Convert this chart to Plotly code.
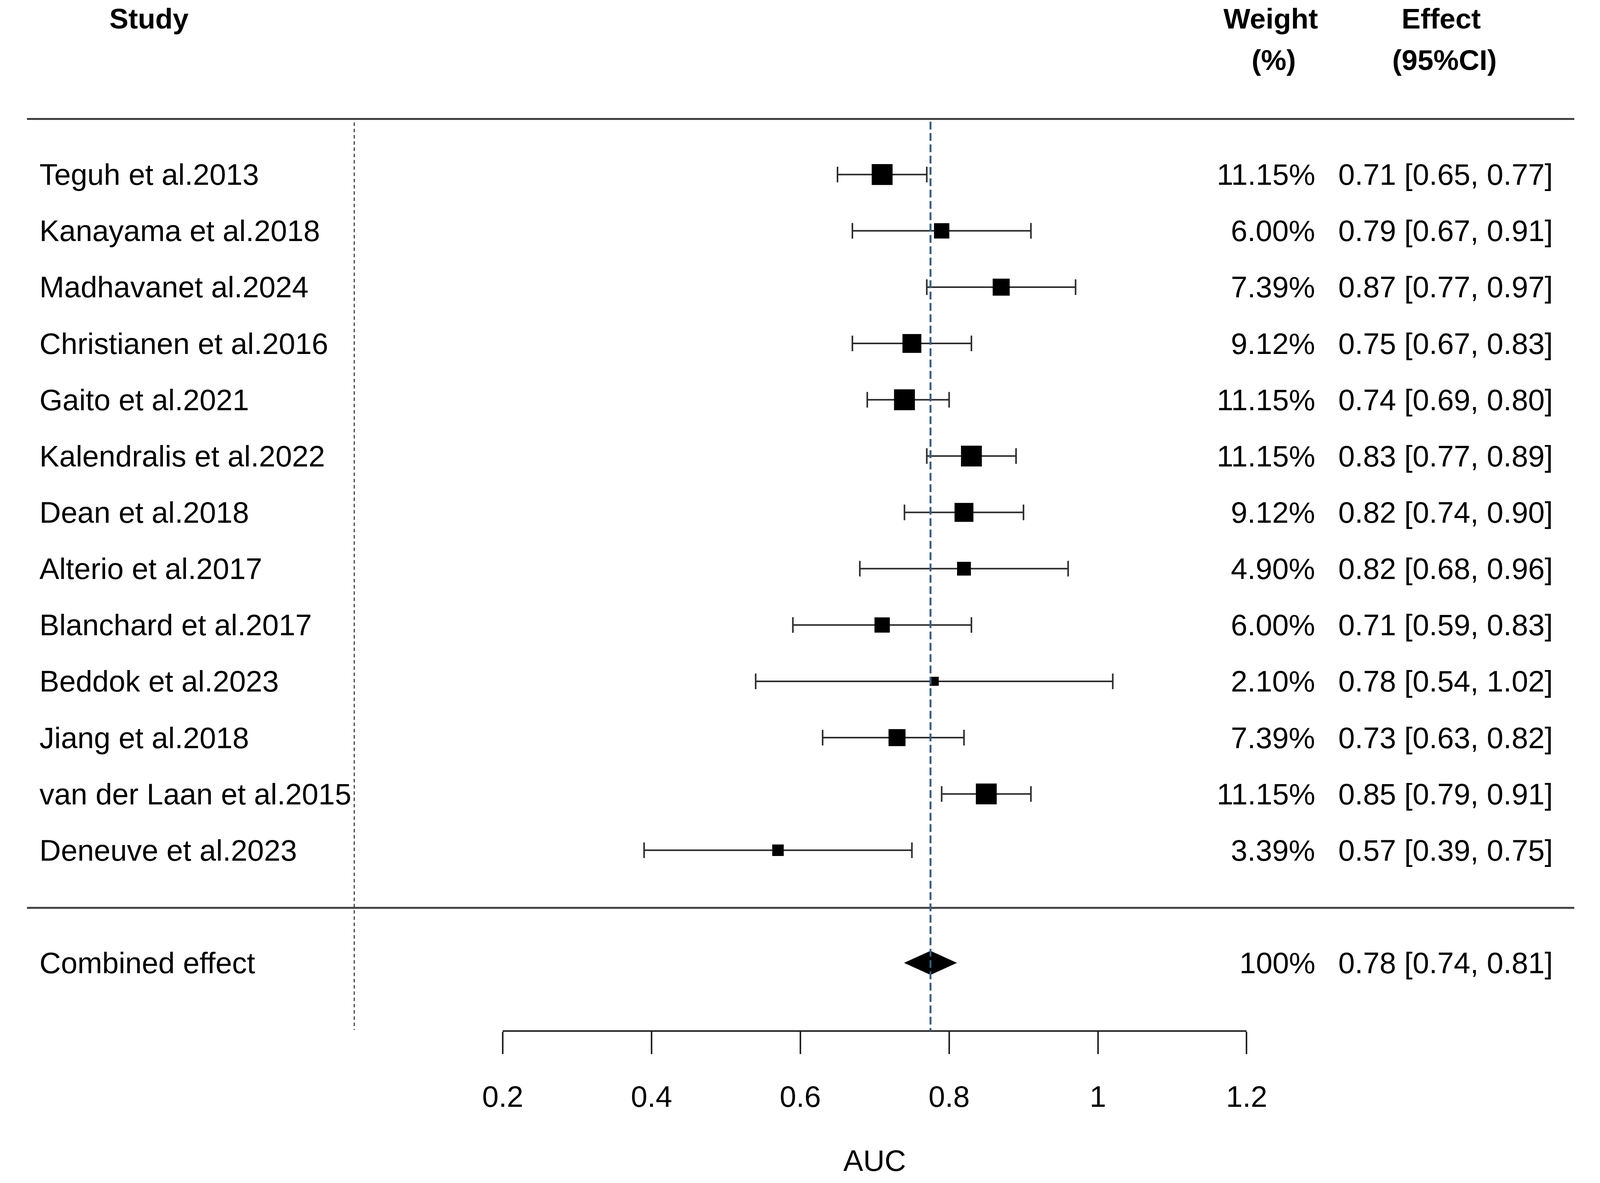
import plotly.graph_objects as go

# study-level results (AUC with 95% CI) and weights
studies = [
    "Teguh et al.2013", "Kanayama et al.2018", "Madhavanet al.2024",
    "Christianen et al.2016", "Gaito et al.2021", "Kalendralis et al.2022",
    "Dean et al.2018", "Alterio et al.2017", "Blanchard et al.2017",
    "Beddok et al.2023", "Jiang et al.2018", "van der Laan et al.2015",
    "Deneuve et al.2023",
]
auc = [0.71, 0.79, 0.87, 0.75, 0.74, 0.83, 0.82, 0.82, 0.71, 0.78, 0.73, 0.85, 0.57]
ci_low = [0.65, 0.67, 0.77, 0.67, 0.69, 0.77, 0.74, 0.68, 0.59, 0.54, 0.63, 0.79, 0.39]
ci_high = [0.77, 0.91, 0.97, 0.83, 0.80, 0.89, 0.90, 0.96, 0.83, 1.02, 0.82, 0.91, 0.75]
weights = [11.15, 6.00, 7.39, 9.12, 11.15, 11.15, 9.12, 4.90, 6.00, 2.10, 7.39, 11.15, 3.39]

pooled_label = "Combined effect"
pooled_auc = 0.775
pooled_low = 0.74
pooled_high = 0.81
pooled_weight = "100%"

tick_vals = [0.2, 0.4, 0.6, 0.8, 1.0, 1.2]
tick_text = ["0.2", "0.4", "0.6", "0.8", "1", "1.2"]

FONT = "Liberation Sans, Arial, sans-serif"
# the browser viewport tops out at 4096 css px wide, so fill that
W, H = 4080, 3012
# positions below are measured on the 4961 x 3028 reference
REF_W, REF_H = 4961, 3028
ROW_PX = 144.9          # reference pixel height of one row
FIRST_ROW_PX = 441      # reference pixel y of first study row
TXT = 76                # body text size
HDR = 73                # bold header size


def fx(px):
    return px / REF_W


def fy(px):
    return 1 - px / REF_H


def px_to_row(py):
    return 1 + (py - FIRST_ROW_PX) / ROW_PX


rows = list(range(1, len(studies) + 1))
pooled_row = len(studies) + 2

fig = go.Figure()

# study squares with CI whiskers
fig.add_trace(go.Scatter(
    x=auc, y=rows, mode="markers",
    marker=dict(symbol="square", color="black", opacity=1,
                size=[16 * w ** 0.5 for w in weights], line_width=0),
    error_x=dict(type="data", symmetric=False,
                 array=[h - a for h, a in zip(ci_high, auc)],
                 arrayminus=[a - l for a, l in zip(auc, ci_low)],
                 color="#2b2b2b", thickness=4, width=20),
    showlegend=False, hoverinfo="skip",
))

# pooled diamond
dh = 0.21
fig.add_trace(go.Scatter(
    x=[pooled_low, pooled_auc, pooled_high, pooled_auc, pooled_low],
    y=[pooled_row, pooled_row - dh, pooled_row, pooled_row + dh, pooled_row],
    mode="lines", fill="toself", fillcolor="black",
    line=dict(color="black", width=1),
    showlegend=False, hoverinfo="skip",
))

# horizontal rules
for py in [298, 2328]:
    fig.add_shape(type="line", xref="paper", yref="y",
                  x0=fx(10), x1=fx(4955), y0=px_to_row(py), y1=px_to_row(py),
                  line=dict(color="#404040", width=5))

# dotted separator
fig.add_shape(type="line", xref="paper", yref="y",
              x0=fx(1056), x1=fx(1056), y0=px_to_row(307), y1=px_to_row(2642),
              line=dict(color="#404040", width=3, dash="9px,7px"))

# pooled estimate reference line
fig.add_shape(type="line", xref="x", yref="y",
              x0=pooled_auc, x1=pooled_auc, y0=px_to_row(305), y1=px_to_row(2645),
              line=dict(color="#3b5d7e", width=5, dash="20px,9px"))

annotations = []

def add_text(text, x, y, anchor="left", bold=False, size=TXT, yref="y"):
    annotations.append(dict(
        text=f"<b>{text}</b>" if bold else text, x=x, y=y,
        xref="paper", yref=yref, xanchor=anchor, yanchor="middle",
        showarrow=False, font=dict(family=FONT, size=size, color="black"),
    ))

# headers
add_text("Study", fx(400), fy(40), anchor="center", bold=True, size=HDR, yref="paper")
add_text("Weight", fx(3985), fy(40), anchor="center", bold=True, size=HDR, yref="paper")
add_text("(%)", fx(3995), fy(146), anchor="center", bold=True, size=HDR, yref="paper")
add_text("Effect", fx(4530), fy(40), anchor="center", bold=True, size=HDR, yref="paper")
add_text("(95%CI)", fx(4540), fy(146), anchor="center", bold=True, size=HDR, yref="paper")

for r, name, a, l, h, w in zip(rows, studies, auc, ci_low, ci_high, weights):
    add_text(name, fx(48), r)
    add_text(f"{w:.2f}%", fx(4129), r, anchor="right")
    add_text(f"{a:.2f} [{l:.2f}, {h:.2f}]", fx(4889), r, anchor="right")

add_text(pooled_label, fx(48), pooled_row)
add_text(pooled_weight, fx(4129), pooled_row, anchor="right")
add_text(f"{pooled_auc:.2f} [{pooled_low:.2f}, {pooled_high:.2f}]", fx(4889), pooled_row, anchor="right")

fig.update_layout(
    width=W, height=H,
    margin=dict(l=0, r=0, t=0, b=0),
    paper_bgcolor="white", plot_bgcolor="white",
    font=dict(family=FONT, size=TXT, color="black"),
    annotations=annotations,
    xaxis=dict(
        domain=[fx(1530.5), fx(3908)], range=[0.2, 1.2],
        anchor="free", position=fy(2645),
        showline=True, linecolor="#222222", linewidth=4,
        ticks="outside", ticklen=57, tickwidth=4, tickcolor="#222222",
        tickvals=tick_vals, ticktext=tick_text,
        tickfont=dict(family=FONT, size=TXT, color="black"),
        ticklabelstandoff=44,
        showgrid=False, zeroline=False,
        title=dict(text="AUC", font=dict(family=FONT, size=TXT, color="black"), standoff=95),
    ),
    yaxis=dict(visible=False, range=[px_to_row(REF_H), px_to_row(0)], domain=[0, 1]),
)

fig.write_html("out.html")
